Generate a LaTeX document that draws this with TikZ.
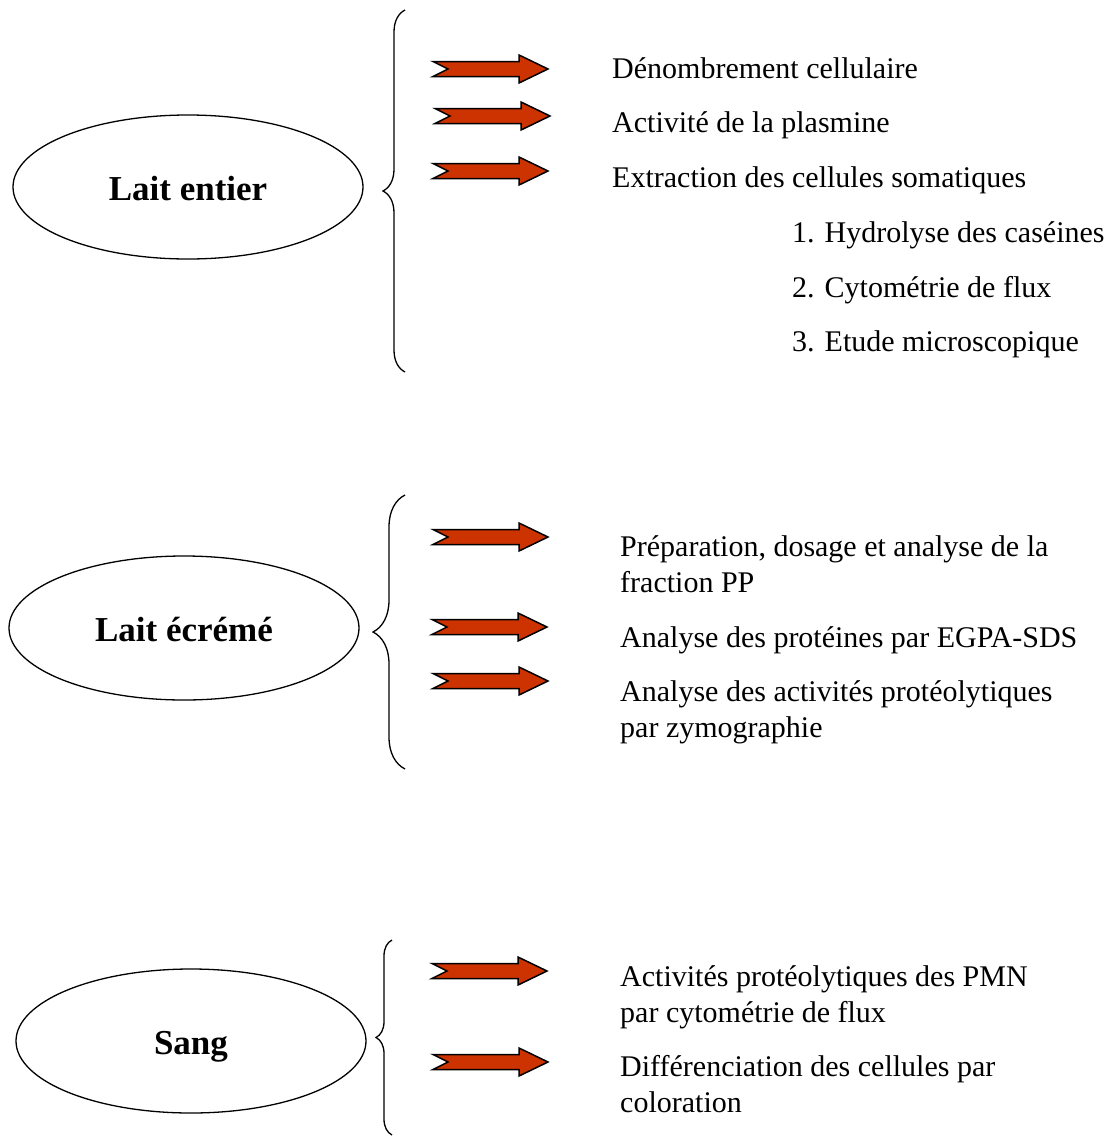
\documentclass[tikz,border=0pt]{standalone}
\usepackage{fontspec}
\setmainfont{Liberation Serif}
\usepackage{xcolor}
\definecolor{flechefill}{RGB}{204,51,0}
\usetikzlibrary{decorations.pathreplacing}
\usetikzlibrary{shapes.geometric}
\usetikzlibrary{positioning}

\tikzset{
  pics/fleche/.style={code={
    \draw[line width=1.5pt, fill=flechefill, line join=miter]
      (0,-7.5) -- (86,-7.5) -- (86,-14) -- (115,0) -- (86,14) -- (86,7.5) -- (0,7.5) -- (15,0) -- cycle;
  }},
  echantillon/.style={ellipse, draw, line width=1.3pt, minimum width=350pt, minimum height=144pt, inner sep=0pt, text height=27pt, text depth=0pt, font=\fontsize{35}{40}\selectfont\bfseries},
  texte/.style={anchor=base west, inner sep=0pt, align=left, font=\fontsize{30}{35.5}\selectfont},
  accolade/.style={decorate, decoration={brace, amplitude=#1}, line width=1.3pt}
}

\begin{document}
\begin{tikzpicture}[x=1pt, y=-1pt]
\useasboundingbox (0,0) rectangle (1111,1136);

% Lait entier
  \node[echantillon] (entier) at (188,187) {Lait entier};
  \coordinate (e_haut) at (405,10);
  \coordinate (e_bas) at (405,372);
  \draw[accolade=22pt] (e_bas) -- (e_haut);

    \pic (f11) at (433,69) {fleche};
    \pic (f12) at (435,116) {fleche};
    \pic (f13) at (433,171) {fleche};

    \node[texte] (t11) at (612,78) {Dénombrement cellulaire};
    \node[texte] (t12) at (612,132) {Activité de la plasmine};
    \node[texte] (t13) at (612,187) {Extraction des cellules somatiques};
    \node[texte] (t14) at (792,242) {1. Hydrolyse des caséines};
    \node[texte] (t15) at (792,297) {2. Cytométrie de flux};
    \node[texte] (t16) at (792,351) {3. Etude microscopique};

% Lait écrémé
  \node[echantillon] (ecreme) at (184,628) {Lait écrémé};
  \coordinate (c_haut) at (405,495);
  \coordinate (c_bas) at (405,769);
  \draw[accolade=32pt] (c_bas) -- (c_haut);

    \pic (f21) at (433,537) {fleche};
    \pic (f22) at (432,627) {fleche};
    \pic (f23) at (433,681) {fleche};

    % base = last line
    \node[texte] (t21) at (620,592) {Préparation, dosage et analyse de la\\fraction PP};
    \node[texte] (t22) at (620,647) {Analyse des protéines par EGPA-SDS};
    \node[texte] (t23) at (620,737) {Analyse des activités protéolytiques\\par zymographie};

% Sang
  \node[echantillon] (sang) at (191,1041) {Sang};
  \coordinate (s_haut) at (392,940);
  \coordinate (s_bas) at (392,1135);
  \draw[accolade=16pt] (s_bas) -- (s_haut);

    \pic (f31) at (432,971) {fleche};
    \pic (f32) at (433,1062) {fleche};

    \node[texte] (t31) at (620,1022) {Activités protéolytiques des PMN\\par cytométrie de flux};
    \node[texte] (t32) at (620,1112) {Différenciation des cellules par\\coloration};

\end{tikzpicture}
\end{document}
